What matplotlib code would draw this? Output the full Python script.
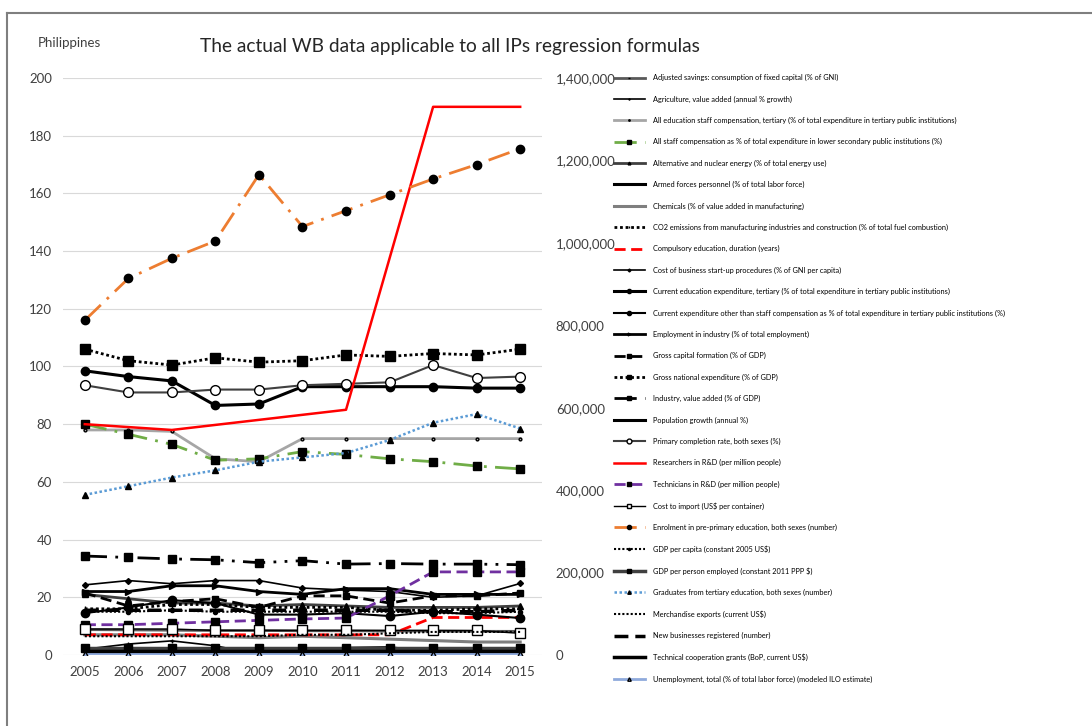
import numpy as np
import matplotlib
matplotlib.use("Agg")
import matplotlib.pyplot as plt
from matplotlib.lines import Line2D
from matplotlib.ticker import FuncFormatter

plt.rcParams['font.family'] = ['Lato', 'DejaVu Sans']

years = [2005, 2006, 2007, 2008, 2009, 2010, 2011, 2012, 2013, 2014, 2015]
nan = np.nan

adj_savings = [8.8, 8.7, 8.6, 8.5, 8.5, 8.4, 8.4, 8.3, 8.3, 8.2, 8.2]
agri_growth = [2.0, 3.8, 4.9, 3.2, 0.1, -0.2, 2.6, 2.8, 1.1, 1.7, 0.1]
edu_staff_tertiary = [78, 78, 77.5, 68, 67, 75, 75, 75, 75, 75, 75]
staff_lower_sec = [80, 76.5, 73, 67.5, 68, 70.5, 69.5, 68, 67, 65.5, 64.5]
alt_energy = [21, 19.5, 18, 18, 17, 17.5, 17, 16.5, 16.5, 16.5, 17]
armed_forces = [0.5, 0.5, 0.5, 0.5, 0.5, 0.5, 0.5, 0.5, 0.5, 0.5, 0.5]
chemicals = [7, 7, 7, 6.5, 6, 6.5, 6, 5.5, 5, 4.5, 4.5]
co2_manuf = [16, 16, 17.5, 17.5, 16.5, 16.5, 16.5, 15.5, 15.5, 16, 16]
compulsory = [7, 7, 7, 7, 7, 7, 7, 7, 13, 13, 13]
startup_cost = [24.3, 25.8, 24.7, 25.8, 25.8, 23.2, 22.5, 22, 20, 20.5, 24.8]
cur_edu_tertiary = [98.5, 96.5, 95, 86.5, 87, 93, 93, 93, 93, 92.5, 92.5]
cur_other = [14.5, 16.5, 19, 18, 14, 14, 14.5, 13.5, 15, 14, 12.8]
employment_ind = [22, 22, 24, 24, 22, 21, 23, 23, 21, 21, 21]
gross_capital = [21.5, 17, 18.5, 19.5, 16.5, 20.5, 20.5, 18, 20.5, 20.5, 21.5]
gne = [106, 102, 100.5, 103, 101.5, 102, 104, 103.5, 104.5, 104, 106]
industry = [34.3, 33.8, 33.3, 33, 32, 32.7, 31.5, 31.7, 31.5, 31.5, 31.3]
pop_growth = [2.0, 1.9, 1.8, 1.8, 1.7, 1.7, 1.7, 1.7, 1.7, 1.6, 1.6]
primary_compl = [93.5, 91, 91, 92, 92, 93.5, 94, 94.5, 100.5, 96, 96.5]
researchers = [80, nan, 78, nan, nan, nan, 85, nan, 190, 190, 190]
technicians = [10.5, 10.5, 11, 11.5, 12, 12.5, 12.8, 20.5, 28.8, 28.8, 28.8]
cost_import = [9, 9, 9, 8.5, 8.5, 8.5, 8.5, 8.5, 8.5, 8.5, 7.5]
gdp_pc = [15, 15, 15.5, 15, 15, 15, 15, 15, 14.5, 14.5, 15]
gdp_pe = [2.5, 2.5, 2.5, 2.5, 2.5, 2.5, 2.5, 2.5, 2.5, 2.5, 2.5]
merch_exports = [6.5, 6.5, 6.5, 6.5, 6.5, 7, 7, 7.5, 8, 8, 8]
new_business = [15.5, 15.5, 15.5, 15.5, 15.5, 15.5, 15.5, 15.5, 15, 15, 15.5]
tech_coop = [1.5, 1.5, 1.5, 1.5, 1.5, 1.5, 1.5, 1.5, 1.5, 1.5, 1.5]
unemployment = [0.3, 0.3, 0.3, 0.3, 0.3, 0.3, 0.3, 0.3, 0.3, 0.3, 0.3]

# secondary axis series (numbers)
enrolment = [812000, 913500, 962500, 1004500, 1165500, 1039500, 1078000, 1116500, 1155000, 1190000, 1228500]
graduates = [388500, 409500, 430500, 448000, 469000, 479500, 490000, 521500, 563500, 584500, 549500]

labels = [
    "Adjusted savings: consumption of fixed capital (% of GNI)",
    "Agriculture, value added (annual % growth)",
    "All education staff compensation, tertiary (% of total expenditure in tertiary public institutions)",
    "All staff compensation as % of total expenditure in lower secondary public institutions (%)",
    "Alternative and nuclear energy (% of total energy use)",
    "Armed forces personnel (% of total labor force)",
    "Chemicals (% of value added in manufacturing)",
    "CO2 emissions from manufacturing industries and construction (% of total fuel combustion)",
    "Compulsory education, duration (years)",
    "Cost of business start-up procedures (% of GNI per capita)",
    "Current education expenditure, tertiary (% of total expenditure in tertiary public institutions)",
    "Current expenditure other than staff compensation as % of total expenditure in tertiary public institutions (%)",
    "Employment in industry (% of total employment)",
    "Gross capital formation (% of GDP)",
    "Gross national expenditure (% of GDP)",
    "Industry, value added (% of GDP)",
    "Population growth (annual %)",
    "Primary completion rate, both sexes (%)",
    "Researchers in R&D (per million people)",
    "Technicians in R&D (per million people)",
    "Cost to import (US$ per container)",
    "Enrolment in pre-primary education, both sexes (number)",
    "GDP per capita (constant 2005 US$)",
    "GDP per person employed (constant 2011 PPP $)",
    "Graduates from tertiary education, both sexes (number)",
    "Merchandise exports (current US$)",
    "New businesses registered (number)",
    "Technical cooperation grants (BoP, current US$)",
    "Unemployment, total (% of total labor force) (modeled ILO estimate)",
]
values = [adj_savings, agri_growth, edu_staff_tertiary, staff_lower_sec, alt_energy,
          armed_forces, chemicals, co2_manuf, compulsory, startup_cost, cur_edu_tertiary,
          cur_other, employment_ind, gross_capital, gne, industry, pop_growth,
          primary_compl, researchers, technicians, cost_import, enrolment, gdp_pc,
          gdp_pe, graduates, merch_exports, new_business, tech_coop, unemployment]
on_right = {"Enrolment in pre-primary education, both sexes (number)",
            "Graduates from tertiary education, both sexes (number)"}

LDD = (0, (8, 3, 1, 3))
LDDD = (0, (8, 3, 1, 3, 1, 3))
DOT = (0, (1, 1))
DASH = (0, (4, 2))
# color, linestyle, lw, marker, markersize, marker face
styles = [
    ("#595959", "-", 2.0, "_", 4, "#595959"),
    ("black", "-", 1.2, "+", 3, "black"),
    ("#a6a6a6", "-", 2.0, ".", 4, "#a6a6a6"),
    ("#70ad47", LDD, 2.0, "s", 6, "black"),
    ("#404040", "-", 2.0, "^", 4, "black"),
    ("black", "-", 2.2, None, 0, "black"),
    ("#7f7f7f", "-", 2.2, None, 0, "#7f7f7f"),
    ("black", DOT, 2.0, "|", 4, "black"),
    ("#ff0000", DASH, 2.0, None, 0, "#ff0000"),
    ("black", "-", 1.2, "D", 3, "black"),
    ("black", "-", 2.2, "o", 6, "black"),
    ("black", "-", 1.5, "o", 6, "black"),
    ("black", "-", 2.0, ">", 4, "black"),
    ("black", DASH, 2.0, "s", 5, "black"),
    ("black", DOT, 2.0, "s", 7, "black"),
    ("black", LDDD, 2.0, "s", 6, "black"),
    ("black", "-", 2.2, None, 0, "black"),
    ("#404040", "-", 1.5, "o", 7, "white"),
    ("#ff0000", "-", 1.8, None, 0, "#ff0000"),
    ("#7030a0", DASH, 2.0, "s", 6, "black"),
    ("black", "-", 1.0, "s", 7, "white"),
    ("#ed7d31", LDD, 2.0, "o", 6, "black"),
    ("black", DOT, 1.5, "o", 3, "black"),
    ("#404040", "-", 2.5, "s", 6, "black"),
    ("#5b9bd5", DOT, 1.8, "^", 5, "black"),
    ("black", DOT, 1.5, None, 0, "black"),
    ("black", DASH, 2.5, None, 0, "black"),
    ("black", "-", 2.5, None, 0, "black"),
    ("#8faadc", "-", 2.0, "^", 5, "#8faadc"),
]

fig = plt.figure(figsize=(10.92, 7.26), dpi=100)
ax = fig.add_axes([0.0577, 0.0978, 0.4386, 0.7948])
ax2 = ax.twinx()

x = np.array(years)
handles = []
for lab, v, st in zip(labels, values, styles):
    col, ls, lw, mk, ms, mfc = st
    v = np.array(v, dtype=float)
    m = ~np.isnan(v)
    target = ax2 if lab in on_right else ax
    h, = target.plot(x[m], v[m], color=col, linestyle=ls, lw=lw, marker=mk,
                     markersize=ms, markerfacecolor=mfc, markeredgecolor="black" if mk else col,
                     markeredgewidth=1.0, label=lab, zorder=3)
    handles.append(h)

ax.set_xlim(2004.5, 2015.5)
ax.set_ylim(0, 200)
ax.set_yticks(range(0, 201, 20))
ax.set_xticks(years)
ax2.set_ylim(0, 1400000)
ax2.set_yticks(range(0, 1400001, 200000))
ax2.yaxis.set_major_formatter(FuncFormatter(lambda v, p: f"{int(v):,}"))
ax.grid(axis="y", color="#d9d9d9", lw=0.8)
ax.set_axisbelow(True)
for a in (ax, ax2):
    for s in a.spines.values():
        s.set_visible(False)
    a.tick_params(length=0, labelsize=9.5, colors="#404040")
ax.tick_params(axis="y", pad=8)
ax2.tick_params(axis="y", pad=10)
ax.tick_params(axis="x", pad=8)

fig.text(0.035, 0.935, "Philippines", fontsize=9.5, color="#404040")
fig.text(0.412, 0.928, "The actual WB data applicable to all IPs regression formulas",
         fontsize=13.8, color="#262626", ha="center")

fig.legend(handles=handles, loc="upper left", bbox_to_anchor=(0.562, 0.898),
           frameon=False, fontsize=5.3, labelspacing=1.93, handlelength=4.2,
           handletextpad=1.2, borderaxespad=0, borderpad=0, markerscale=0.5)

# outer chart border (top and left edges visible)
fig.add_artist(Line2D([7 / 1092, 1.0], [1 - 13 / 726] * 2, color="#7f7f7f", lw=1.5))
fig.add_artist(Line2D([7 / 1092] * 2, [0, 1 - 13 / 726], color="#7f7f7f", lw=1.5))

fig.savefig("out.png", dpi=100)
